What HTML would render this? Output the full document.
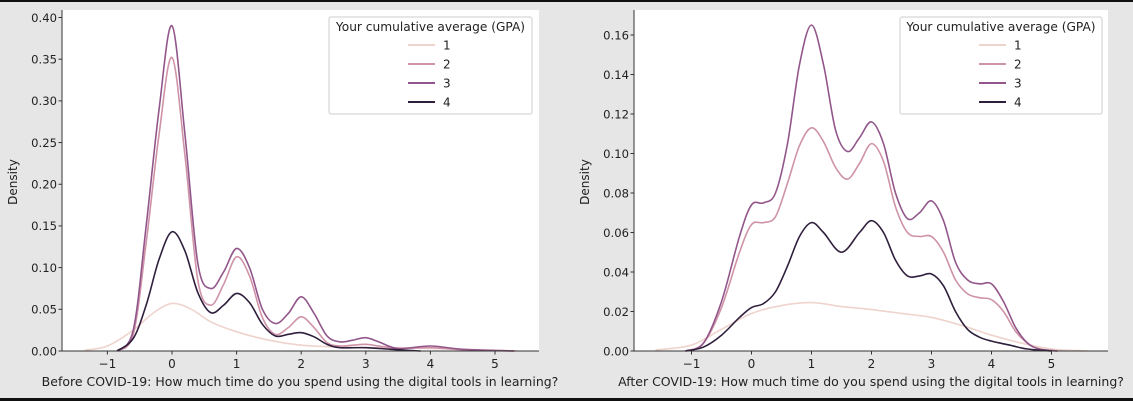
<!DOCTYPE html>
<html><head><meta charset="utf-8"><style>
html,body{margin:0;padding:0;background:#e6e6e6;width:1133px;height:401px;overflow:hidden}
svg{display:block;font-family:"DejaVu Sans","Liberation Sans",sans-serif}
</style></head><body>
<svg id="fig" width="1133" height="401" xmlns="http://www.w3.org/2000/svg">
<rect x="0" y="0" width="1133" height="2" fill="#111"/>
<rect x="0" y="398" width="1133" height="3" fill="#111"/>
</svg>
<script>
// ---- Data: Before COVID-19 (left) ----
const legendLabels = ["1","2","3","4"];
const colors = ["#efd3cd","#cf93a7","#92568a","#2f1f3d"];
const leftYTicks = [0,0.05,0.10,0.15,0.20,0.25,0.30,0.35,0.40];
const leftYTickLabels = ["0.00","0.05","0.10","0.15","0.20","0.25","0.30","0.35","0.40"];
const xTicks = [-1,0,1,2,3,4,5];
const xTickLabels = ["\u22121","0","1","2","3","4","5"];
const L1x = [-1.35,-1,-0.6,-0.3,0,0.3,0.6,1,1.5,2,2.5,3,3.5,4,4.5,5.35];
const L1y = [0.001,0.006,0.025,0.045,0.057,0.05,0.035,0.023,0.013,0.007,0.005,0.004,0.004,0.003,0.002,0];
const L2x = [-0.85,-0.6,-0.4,-0.2,0,0.2,0.4,0.6,0.8,1,1.2,1.4,1.6,1.8,2,2.2,2.4,2.6,2.8,3,3.2,3.5,4,4.5,5.3];
const L2y = [0,0.02,0.13,0.26,0.352,0.235,0.085,0.055,0.08,0.113,0.09,0.04,0.02,0.028,0.041,0.028,0.01,0.006,0.007,0.008,0.006,0.003,0.004,0.0015,0];
const L3x = [-0.85,-0.6,-0.4,-0.2,0,0.2,0.4,0.6,0.8,1,1.2,1.4,1.6,1.8,2,2.2,2.4,2.6,2.8,3,3.2,3.5,4,4.5,5.3];
const L3y = [0,0.025,0.15,0.29,0.39,0.26,0.105,0.075,0.095,0.123,0.1,0.05,0.033,0.045,0.065,0.045,0.018,0.011,0.013,0.016,0.011,0.003,0.006,0.002,0];
const L4x = [-0.85,-0.6,-0.4,-0.2,0,0.2,0.4,0.6,0.8,1,1.2,1.4,1.6,1.8,2,2.2,2.4,2.6,3,3.4,3.85];
const L4y = [0,0.015,0.055,0.11,0.143,0.12,0.07,0.046,0.055,0.069,0.058,0.032,0.018,0.02,0.022,0.017,0.008,0.004,0.004,0.002,0];
// ---- Data: After COVID-19 (right) ----
const rightYTicks = [0,0.02,0.04,0.06,0.08,0.10,0.12,0.14,0.16];
const rightYTickLabels = ["0.00","0.02","0.04","0.06","0.08","0.10","0.12","0.14","0.16"];
const R1x = [-1.6,-1,-0.5,0,0.5,1,1.5,2,2.5,3,3.5,4,4.5,5,5.6];
const R1y = [0.0005,0.003,0.011,0.019,0.023,0.0245,0.0225,0.021,0.019,0.017,0.013,0.008,0.004,0.001,0];
const R2x = [-1.1,-0.8,-0.5,-0.2,0,0.2,0.4,0.6,0.8,1,1.2,1.4,1.6,1.8,2,2.2,2.4,2.6,2.8,3,3.2,3.4,3.6,3.8,4,4.2,4.4,4.6,4.8,5.1];
const R2y = [0,0.004,0.022,0.05,0.064,0.065,0.068,0.085,0.104,0.113,0.106,0.093,0.087,0.095,0.105,0.096,0.073,0.06,0.058,0.058,0.05,0.036,0.029,0.027,0.026,0.02,0.01,0.004,0.001,0];
const R3x = [-1.1,-0.8,-0.5,-0.2,0,0.2,0.4,0.6,0.8,1,1.2,1.4,1.6,1.8,2,2.2,2.4,2.6,2.8,3,3.2,3.4,3.6,3.8,4,4.2,4.4,4.6,4.8,5.1];
const R3y = [0,0.004,0.025,0.058,0.074,0.075,0.08,0.105,0.145,0.165,0.145,0.112,0.101,0.108,0.116,0.105,0.08,0.067,0.07,0.076,0.066,0.045,0.036,0.034,0.034,0.025,0.012,0.004,0.001,0];
const R4x = [-1.1,-0.8,-0.5,-0.2,0,0.2,0.4,0.6,0.8,1,1.2,1.5,1.8,2,2.2,2.4,2.6,2.8,3,3.2,3.4,3.6,3.8,4,4.3,4.6,5.0];
const R4y = [0,0.002,0.008,0.017,0.022,0.024,0.03,0.043,0.058,0.065,0.06,0.05,0.06,0.066,0.06,0.046,0.038,0.038,0.039,0.033,0.02,0.011,0.007,0.005,0.003,0.001,0];

const NS="http://www.w3.org/2000/svg";
const fig=document.getElementById('fig');
function mk(tag,attrs,parent){const e=document.createElementNS(NS,tag);for(const k in attrs)e.setAttribute(k,attrs[k]);(parent||fig).appendChild(e);return e;}

function smoothPath(pts){
  let d="M"+pts[0][0].toFixed(2)+","+pts[0][1].toFixed(2);
  for(let i=0;i<pts.length-1;i++){
    const p0=pts[i-1]||pts[i],p1=pts[i],p2=pts[i+1],p3=pts[i+2]||p2;
    const c1=[p1[0]+(p2[0]-p0[0])/6,p1[1]+(p2[1]-p0[1])/6];
    const c2=[p2[0]-(p3[0]-p1[0])/6,p2[1]-(p3[1]-p1[1])/6];
    d+=" C"+c1[0].toFixed(2)+","+c1[1].toFixed(2)+" "+c2[0].toFixed(2)+","+c2[1].toFixed(2)+" "+p2[0].toFixed(2)+","+p2[1].toFixed(2);
  }
  return d;
}

function drawPanel(cfg){
  const g=mk('g',{});
  
  
  const X=v=>cfg.x0px+(v-cfg.x0v)*cfg.xs;
  const Y=v=>cfg.y0px-v*cfg.ys;
  const bg=mk('rect',{x:cfg.left,y:10,width:cfg.right-cfg.left,height:cfg.y0px-10,fill:'#fff'},g);
  
  
  cfg.series.forEach((s,i)=>{
    const pts=s[0].map((xv,j)=>[X(xv),Y(s[1][j])]);
    const p=mk('path',{d:smoothPath(pts),fill:'none',stroke:colors[i],'stroke-width':1.6},g);
    
    
  });
  mk('line',{x1:cfg.left,y1:10,x2:cfg.left,y2:cfg.y0px,stroke:'#333','stroke-width':1},g);
  mk('line',{x1:cfg.left,y1:cfg.y0px,x2:cfg.right,y2:cfg.y0px,stroke:'#333','stroke-width':1},g);
  cfg.yTicks.forEach((t,i)=>{
    const y=Y(t);
    mk('line',{x1:cfg.left-3.5,y1:y,x2:cfg.left,y2:y,stroke:'#333'},g);
    const tx=mk('text',{x:cfg.left-5,y:y+4.3,'font-size':11.6,'text-anchor':'end',fill:'#222'},g);
    tx.textContent=cfg.yLabels[i];
    
    
  });
  xTicks.forEach((t,i)=>{
    const x=X(t);
    mk('line',{x1:x,y1:cfg.y0px,x2:x,y2:cfg.y0px+3.5,stroke:'#333'},g);
    const tx=mk('text',{x:x,y:cfg.y0px+17,'font-size':12,'text-anchor':'middle',fill:'#222'},g);
    tx.textContent=xTickLabels[i];
    
    
  });
  const xl=mk('text',{x:cfg.xTitleX,y:386,'font-size':12.5,'text-anchor':'middle',fill:'#222'},g);
  xl.textContent=cfg.xTitle;
  
  
  const yl=mk('text',{x:0,y:0,'font-size':12,'text-anchor':'middle',fill:'#222',transform:'translate('+cfg.yTitleX+',182) rotate(-90)'},g);
  yl.textContent='Density';
  
  
  const lg=mk('g',{},g);
  
  
  mk('rect',{x:cfg.legX,y:17,width:cfg.legW,height:97,fill:'#fff',stroke:'#ccc','stroke-width':1,rx:2},lg);
  const lt=mk('text',{x:cfg.legX+cfg.legW/2,y:31,'font-size':12.2,'text-anchor':'middle',fill:'#222'},lg);
  lt.textContent='Your cumulative average (GPA)';
  
  
  legendLabels.forEach((lab,i)=>{
    const y=45+i*19;
    const e=mk('g',{},lg);
    
    
    mk('line',{x1:cfg.legX+79,y1:y,x2:cfg.legX+106,y2:y,stroke:colors[i],'stroke-width':2},e);
    const t=mk('text',{x:cfg.legX+114,y:y+4.5,'font-size':12,fill:'#222'},e);
    t.textContent=lab;
  });
}

drawPanel({name:'before-covid-chart',left:62,right:539,x0px:172,x0v:0,xs:64.6,y0px:351,ys:333.5/0.40,
  yTicks:leftYTicks,yLabels:leftYTickLabels,
  series:[[L1x,L1y],[L2x,L2y],[L3x,L3y],[L4x,L4y]],
  xTitle:'Before COVID-19: How much time do you spend using the digital tools in learning?',xTitleX:300,yTitleX:17,
  legX:329,legW:203});
drawPanel({name:'after-covid-chart',left:634,right:1108,x0px:751.5,x0v:0,xs:60,y0px:351,ys:316/0.16,
  yTicks:rightYTicks,yLabels:rightYTickLabels,
  series:[[R1x,R1y],[R2x,R2y],[R3x,R3y],[R4x,R4y]],
  xTitle:'After COVID-19: How much time do you spend using the digital tools in learning?',xTitleX:871,yTitleX:589,
  legX:900,legW:202});
</script>
</body></html>
